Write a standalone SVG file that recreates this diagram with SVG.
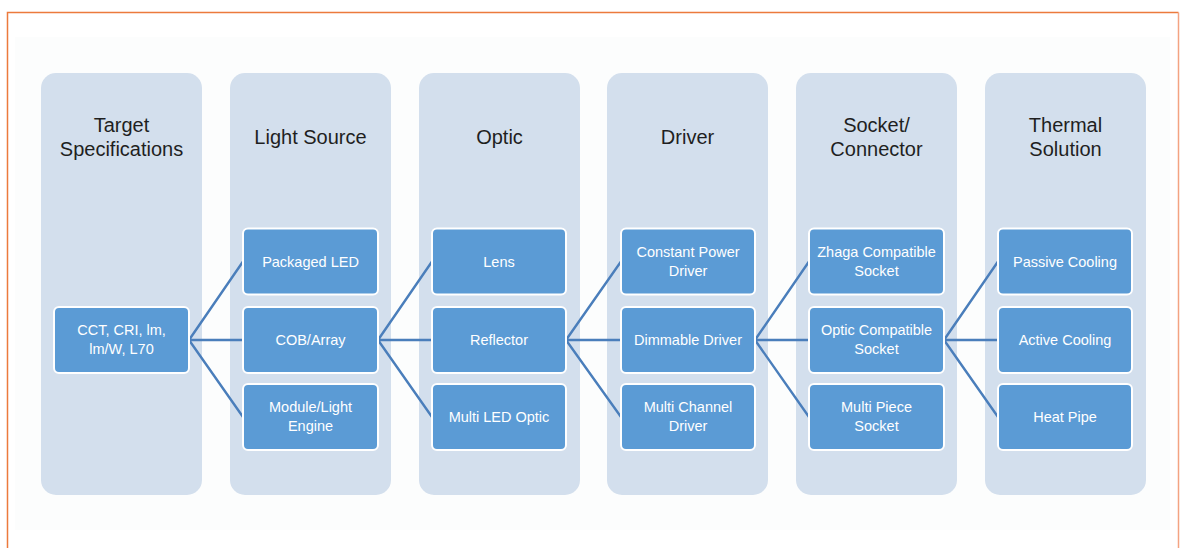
<svg xmlns="http://www.w3.org/2000/svg" width="1185" height="548" viewBox="0 0 1185 548">
<style>
.col{fill:#d3dfed;}
.box{fill:#5b9bd5;stroke:#ffffff;stroke-width:2;}
.hd{font-family:"Liberation Sans",Arial,sans-serif;font-size:20px;fill:#1f1f1f;text-anchor:middle;}
.bt{font-family:"Liberation Sans",Arial,sans-serif;font-size:14.5px;fill:#ffffff;text-anchor:middle;}
.cn{stroke:#4a7ebb;stroke-width:2.4;fill:none;}
</style>
<rect width="1185" height="548" fill="#ffffff"/>
<rect x="15" y="37" width="1155" height="493" fill="#fcfdfd"/>
<path d="M7.5 548 V12.5 H1178.5" fill="none" stroke="#ec7a3c" stroke-width="1.5"/>
<path d="M1178.5 12.5 V548" fill="none" stroke="#f4a382" stroke-width="1.5"/>

<g id="col-target">
<rect class="col" x="41" y="73" width="161" height="422" rx="15"/>
<text class="hd" x="121.5" y="132">Target</text>
<text class="hd" x="121.5" y="156">Specifications</text>
</g>
<g id="col-light">
<rect class="col" x="230" y="73" width="161" height="422" rx="15"/>
<text class="hd" x="310.5" y="144">Light Source</text>
</g>
<g id="col-optic">
<rect class="col" x="419" y="73" width="161" height="422" rx="15"/>
<text class="hd" x="499.5" y="144">Optic</text>
</g>
<g id="col-driver">
<rect class="col" x="607" y="73" width="161" height="422" rx="15"/>
<text class="hd" x="687.5" y="144">Driver</text>
</g>
<g id="col-socket">
<rect class="col" x="796" y="73" width="161" height="422" rx="15"/>
<text class="hd" x="876.5" y="132">Socket/</text>
<text class="hd" x="876.5" y="156">Connector</text>
</g>
<g id="col-thermal">
<rect class="col" x="985" y="73" width="161" height="422" rx="15"/>
<text class="hd" x="1065.5" y="132">Thermal</text>
<text class="hd" x="1065.5" y="156">Solution</text>
</g>

<g id="connectors">
<path class="cn" d="M189 340 L243 261.5 M189 340 L243 340 M189 340 L243 417"/>
<path class="cn" d="M378 340 L432 261.5 M378 340 L432 340 M378 340 L432 417"/>
<path class="cn" d="M566 340 L621 261.5 M566 340 L621 340 M566 340 L621 417"/>
<path class="cn" d="M755 340 L809 261.5 M755 340 L809 340 M755 340 L809 417"/>
<path class="cn" d="M944 340 L998 261.5 M944 340 L998 340 M944 340 L998 417"/>
</g>

<g id="n-cct">
<rect class="box" x="54" y="307" width="135" height="66" rx="5"/>
<text class="bt" x="121.5" y="335">CCT, CRI, lm,</text>
<text class="bt" x="121.5" y="354">lm/W, L70</text>
</g>

<g id="n-packaged-led">
<rect class="box" x="243" y="228.5" width="135" height="66" rx="5"/>
<text class="bt" x="310.5" y="266.5">Packaged LED</text>
</g>
<g id="n-cob">
<rect class="box" x="243" y="307" width="135" height="66" rx="5"/>
<text class="bt" x="310.5" y="345">COB/Array</text>
</g>
<g id="n-module">
<rect class="box" x="243" y="384" width="135" height="66" rx="5"/>
<text class="bt" x="310.5" y="412">Module/Light</text>
<text class="bt" x="310.5" y="431">Engine</text>
</g>

<g id="n-lens">
<rect class="box" x="432" y="228.5" width="134" height="66" rx="5"/>
<text class="bt" x="499" y="266.5">Lens</text>
</g>
<g id="n-reflector">
<rect class="box" x="432" y="307" width="134" height="66" rx="5"/>
<text class="bt" x="499" y="345">Reflector</text>
</g>
<g id="n-multi-led-optic">
<rect class="box" x="432" y="384" width="134" height="66" rx="5"/>
<text class="bt" x="499" y="422">Multi LED Optic</text>
</g>

<g id="n-constant-power">
<rect class="box" x="621" y="228.5" width="134" height="66" rx="5"/>
<text class="bt" x="688" y="257">Constant Power</text>
<text class="bt" x="688" y="276">Driver</text>
</g>
<g id="n-dimmable">
<rect class="box" x="621" y="307" width="134" height="66" rx="5"/>
<text class="bt" x="688" y="345">Dimmable Driver</text>
</g>
<g id="n-multi-channel">
<rect class="box" x="621" y="384" width="134" height="66" rx="5"/>
<text class="bt" x="688" y="412">Multi Channel</text>
<text class="bt" x="688" y="431">Driver</text>
</g>

<g id="n-zhaga">
<rect class="box" x="809" y="228.5" width="135" height="66" rx="5"/>
<text class="bt" x="876.5" y="257">Zhaga Compatible</text>
<text class="bt" x="876.5" y="276">Socket</text>
</g>
<g id="n-optic-compatible">
<rect class="box" x="809" y="307" width="135" height="66" rx="5"/>
<text class="bt" x="876.5" y="335">Optic Compatible</text>
<text class="bt" x="876.5" y="354">Socket</text>
</g>
<g id="n-multi-piece">
<rect class="box" x="809" y="384" width="135" height="66" rx="5"/>
<text class="bt" x="876.5" y="412">Multi Piece</text>
<text class="bt" x="876.5" y="431">Socket</text>
</g>

<g id="n-passive">
<rect class="box" x="998" y="228.5" width="134" height="66" rx="5"/>
<text class="bt" x="1065" y="266.5">Passive Cooling</text>
</g>
<g id="n-active">
<rect class="box" x="998" y="307" width="134" height="66" rx="5"/>
<text class="bt" x="1065" y="345">Active Cooling</text>
</g>
<g id="n-heat-pipe">
<rect class="box" x="998" y="384" width="134" height="66" rx="5"/>
<text class="bt" x="1065" y="422">Heat Pipe</text>
</g>
</svg>
